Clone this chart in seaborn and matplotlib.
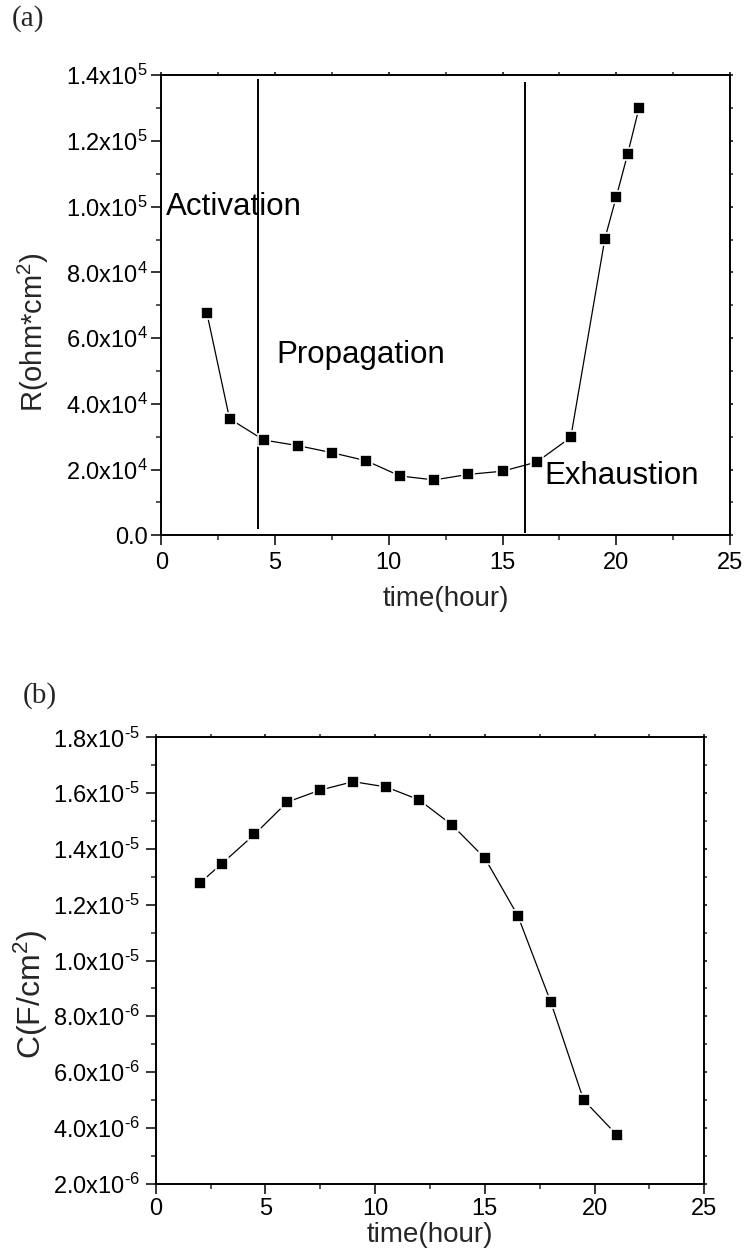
import numpy as np
import pandas as pd
import matplotlib
matplotlib.use("Agg")
import matplotlib.pyplot as plt
import seaborn as sns
from matplotlib.ticker import FixedLocator, MultipleLocator

# ---------------- data ----------------
time_r = [2, 3, 4.5, 6, 7.5, 9, 10.5, 12, 13.5, 15, 16.5, 18, 19.5, 20, 20.5, 21]
resistance = [67750, 35500, 29000, 27300, 25150, 22700, 18050, 16850, 18550, 19500,
              22300, 29800, 90300, 103000, 116000, 130100]

time_c = [2, 3, 4.5, 6, 7.5, 9, 10.5, 12, 13.5, 15, 16.5, 18, 19.5, 21]
capacitance = [1.277e-5, 1.346e-5, 1.452e-5, 1.568e-5, 1.611e-5, 1.641e-5, 1.622e-5,
               1.576e-5, 1.486e-5, 1.367e-5, 1.161e-5, 8.52e-6, 5.0e-6, 3.76e-6]

phase_bounds = [4.25, 16.0]
phase_line_bottom = [2000, 700]
phase_line_top = [139000, 138000]
phase_names = ["Activation", "Propagation", "Exhaustion"]
phase_text_x = [0.19, 5.07, 16.86]
phase_text_y = [97500, 52350, 15500]

x_ticks = [0, 5, 10, 15, 20, 25]
r_tick_mant = ["0.0", "2.0", "4.0", "6.0", "8.0", "1.0", "1.2", "1.4"]
r_tick_exp = [None, 4, 4, 4, 4, 5, 5, 5]
c_tick_mant = ["2.0", "4.0", "6.0", "8.0", "1.0", "1.2", "1.4", "1.6", "1.8"]
c_tick_exp = [-6, -6, -6, -6, -5, -5, -5, -5, -5]

r_label = r"R(ohm*cm$^{2}$)"
c_label = r"C(F/cm$^{2}$)"
x_label = "time(hour)"

# ---------------- style ----------------
sns.set_style("ticks")
plt.rcParams["font.family"] = ["Liberation Sans", "DejaVu Sans"]
plt.rcParams["mathtext.fontset"] = "custom"
plt.rcParams["mathtext.rm"] = "Liberation Sans"
plt.rcParams["mathtext.it"] = "Liberation Sans:italic"
plt.rcParams["mathtext.bf"] = "Liberation Sans:bold"

W, H = 745, 1252
fig = plt.figure(figsize=(W / 100, H / 100), dpi=100)


def px_axes(l, t, r, b):
    return fig.add_axes([l / W, 1 - b / H, (r - l) / W, (b - t) / H])


ax1 = px_axes(161.3, 75.3, 730.0, 535.3)
ax2 = px_axes(155.7, 737.3, 704.3, 1183.7)


def tick_labels(mants, exps):
    vals, labs = [], []
    for m, e in zip(mants, exps):
        if e is None:
            vals.append(float(m))
            labs.append(m)
        else:
            vals.append(float(m) * 10.0 ** e)
            es = str(abs(e))
            if e < 0:
                es = r"\text{-}" + es
            labs.append(r"$\mathregular{%sx10^{%s}}$" % (m, es))
    return vals, labs


def style_axes(ax, yminor, ypad, xpad):
    for s in ax.spines.values():
        s.set_linewidth(1.4)
        s.set_color("black")
        s.set_visible(True)
    ax.set_xlim(0, 25)
    ax.xaxis.set_major_locator(FixedLocator(x_ticks))
    ax.set_xticklabels([str(v) for v in x_ticks])
    ax.xaxis.set_minor_locator(MultipleLocator(2.5))
    ax.yaxis.set_minor_locator(MultipleLocator(yminor))
    ax.tick_params(axis="both", which="major", direction="out", length=7, width=1.1,
                   labelsize=17, colors="black")
    ax.tick_params(axis="both", which="minor", direction="out", length=3.5, width=1.1)
    ax.tick_params(axis="y", which="major", pad=ypad)
    ax.tick_params(axis="x", which="major", pad=xpad)
    ax.tick_params(which="both", top=True, right=True, labeltop=False, labelright=False)
    ax.grid(False)


def shorten_secondary_ticks(ax):
    for axis in (ax.xaxis, ax.yaxis):
        for t in axis.get_major_ticks() + axis.get_minor_ticks():
            t.tick2line.set_markersize(2)


# ---------------- top panel ----------------
df_r = pd.DataFrame({"time": time_r, "R": resistance})
sns.lineplot(data=df_r, x="time", y="R", ax=ax1, color="black", linewidth=0.9,
             marker="s", markersize=9, markerfacecolor="black",
             markeredgecolor="white", markeredgewidth=1.2, zorder=3)
ax1.vlines(phase_bounds, phase_line_bottom, phase_line_top, colors="black", linewidth=1.4)
for name, tx, ty in zip(phase_names, phase_text_x, phase_text_y):
    ax1.text(tx, ty, name, fontsize=22.5, ha="left", va="baseline", color="black", zorder=4)

rv, rl = tick_labels(r_tick_mant, r_tick_exp)
ax1.set_ylim(0, 1.4e5)
ax1.yaxis.set_major_locator(FixedLocator(rv))
ax1.set_yticklabels(rl)
style_axes(ax1, 1e4, 3, 5)
ax1.set_xlabel(x_label, fontsize=20)
ax1.set_ylabel(r_label, fontsize=21)
ax1.yaxis.label.set_va("center")
ax1.yaxis.set_label_coords((33 - 161.3) / (730 - 161.3), (535.3 - 332.5) / 460.0)
ax1.xaxis.set_label_coords(0.5, (535.3 - 586) / 460.0)

# ---------------- bottom panel ----------------
df_c = pd.DataFrame({"time": time_c, "C": capacitance})
sns.lineplot(data=df_c, x="time", y="C", ax=ax2, color="black", linewidth=0.9,
             marker="s", markersize=9, markerfacecolor="black",
             markeredgecolor="white", markeredgewidth=1.2, zorder=3)
cv, cl = tick_labels(c_tick_mant, c_tick_exp)
ax2.set_ylim(2e-6, 1.8e-5)
ax2.yaxis.set_major_locator(FixedLocator(cv))
ax2.set_yticklabels(cl)
style_axes(ax2, 1e-6, 4, 3)
ax2.set_xlabel(x_label, fontsize=20)
ax2.set_ylabel(c_label, fontsize=23)
ax2.yaxis.label.set_va("center")
ax2.yaxis.set_label_coords((31 - 155.7) / (704.3 - 155.7), (1183.7 - 994.5) / 446.4)
ax2.xaxis.set_label_coords(0.5, (1183.7 - 1222) / 446.4)

for ax in (ax1, ax2):
    shorten_secondary_ticks(ax)

# panel letters
fig.text(12 / W, 1 - 5 / H, "(a)", fontsize=21, family=["Liberation Serif", "DejaVu Serif"],
         ha="left", va="top")
fig.text(23 / W, 1 - 682 / H, "(b)", fontsize=21, family=["Liberation Serif", "DejaVu Serif"],
         ha="left", va="top")

fig.savefig("out.png", dpi=100)
